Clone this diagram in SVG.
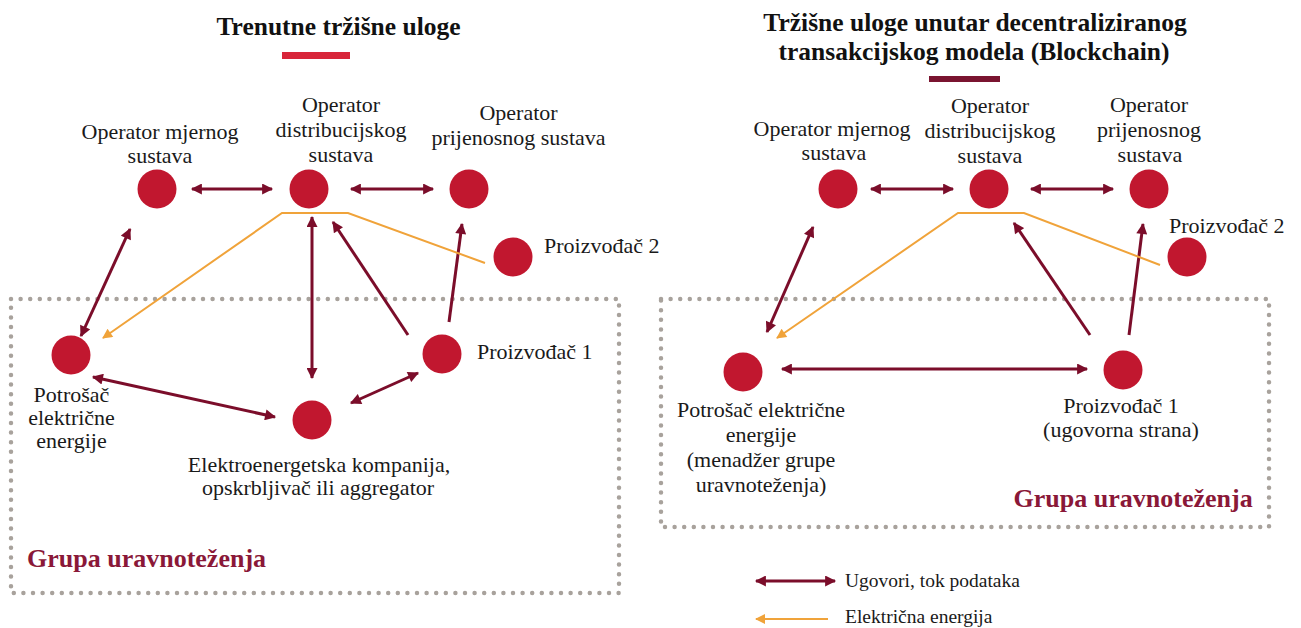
<svg xmlns="http://www.w3.org/2000/svg" width="1301" height="628" viewBox="0 0 1301 628">
<style>
.t{font-family:"Liberation Serif","Times New Roman",Tinos,serif;font-weight:700;font-size:25.5px;fill:#111}
.l{font-family:"Times New Roman","Liberation Serif",Tinos,"DejaVu Serif",serif;font-size:22px;fill:#1a1a1a}
.lg{font-family:"Times New Roman","Liberation Serif",Tinos,"DejaVu Serif",serif;font-size:19.5px;fill:#1a1a1a}
.g{font-family:"Liberation Serif","Times New Roman",Tinos,serif;font-weight:700;font-size:26px;fill:#8a1838}
.c{text-anchor:middle}
.n{fill:#c1172f}
.box{fill:none;stroke:#a8a29c;stroke-width:4.5;stroke-linecap:round;stroke-dasharray:0 9.6}
.a{fill:none;stroke:#7b0d2a;stroke-width:3}
.o{fill:none;stroke:#f0a33a;stroke-width:2}
</style>
<defs>
<marker id="ad" viewBox="0 0 10 10" refX="9" refY="5" markerWidth="12" markerHeight="11" markerUnits="userSpaceOnUse" orient="auto-start-reverse">
<path d="M0,0 L10,5 L0,10 z" fill="#7b0d2a"/>
</marker>
<marker id="ao" viewBox="0 0 10 10" refX="9" refY="5" markerWidth="11" markerHeight="10" markerUnits="userSpaceOnUse" orient="auto-start-reverse">
<path d="M0,0 L10,5 L0,10 z" fill="#f0a33a"/>
</marker>
</defs>

<g id="left-panel">
<text class="t c" x="338.5" y="35">Trenutne tržišne uloge</text>
<rect x="282" y="52" width="68" height="7" fill="#d8253a"/>
<rect id="left-group" class="box" x="11" y="299" width="608" height="294"/>
<text class="g" x="27" y="567">Grupa uravnoteženja</text>
</g>

<g id="right-panel">
<text class="t c" x="975" y="31">Tržišne uloge unutar decentraliziranog</text>
<text class="t c" x="974" y="60">transakcijskog modela (Blockchain)</text>
<rect x="929" y="76" width="71" height="6" fill="#7a1430"/>
<rect id="right-group" class="box" x="661" y="299" width="608" height="228"/>
<text class="g" x="1013.6" y="507">Grupa uravnoteženja</text>
</g>

<g id="connectors">
<line class="a" x1="192" y1="189" x2="272" y2="189" marker-start="url(#ad)" marker-end="url(#ad)"/>
<line class="a" x1="351" y1="189" x2="433" y2="189" marker-start="url(#ad)" marker-end="url(#ad)"/>
<line class="a" x1="81" y1="336" x2="130" y2="229" marker-start="url(#ad)" marker-end="url(#ad)"/>
<line class="a" x1="312" y1="217" x2="312" y2="378" marker-start="url(#ad)" marker-end="url(#ad)"/>
<line class="a" x1="408" y1="335" x2="333" y2="222" marker-end="url(#ad)"/>
<line class="a" x1="449" y1="322" x2="462" y2="224" marker-end="url(#ad)"/>
<line class="a" x1="93" y1="377" x2="275" y2="417" marker-start="url(#ad)" marker-end="url(#ad)"/>
<line class="a" x1="351" y1="403" x2="418" y2="373" marker-start="url(#ad)" marker-end="url(#ad)"/>
<polyline class="o" points="485,263 348,213 282,213 103,338" marker-end="url(#ao)"/>

<line class="a" x1="871" y1="189" x2="953" y2="189" marker-start="url(#ad)" marker-end="url(#ad)"/>
<line class="a" x1="1031" y1="189" x2="1113" y2="189" marker-start="url(#ad)" marker-end="url(#ad)"/>
<line class="a" x1="767" y1="332" x2="813" y2="227" marker-start="url(#ad)" marker-end="url(#ad)"/>
<line class="a" x1="1090" y1="335" x2="1014" y2="223" marker-end="url(#ad)"/>
<line class="a" x1="1129" y1="335" x2="1143" y2="224" marker-end="url(#ad)"/>
<line class="a" x1="782" y1="369" x2="1087" y2="369" marker-start="url(#ad)" marker-end="url(#ad)"/>
<polyline class="o" points="1160,265 1024,213 958,213 777,338" marker-end="url(#ao)"/>
</g>

<g id="L-oms">
<circle class="n" cx="157" cy="189" r="19.5"/>
<text class="l c" x="160" y="139">Operator mjernog</text>
<text class="l c" x="160" y="163">sustava</text>
</g>
<g id="L-ods">
<circle class="n" cx="309" cy="189" r="19.5"/>
<text class="l c" x="341" y="112">Operator</text>
<text class="l c" x="341" y="137">distribucijskog</text>
<text class="l c" x="341" y="162">sustava</text>
</g>
<g id="L-ops">
<circle class="n" cx="469" cy="189" r="19.5"/>
<text class="l c" x="518.5" y="120">Operator</text>
<text class="l c" x="518.5" y="145">prijenosnog sustava</text>
</g>
<g id="L-p2">
<circle class="n" cx="513" cy="257" r="19.5"/>
<text class="l" x="544" y="253">Proizvođač 2</text>
</g>
<g id="L-p1">
<circle class="n" cx="442" cy="354" r="19.5"/>
<text class="l" x="477" y="359">Proizvođač 1</text>
</g>
<g id="L-potrosac">
<circle class="n" cx="71" cy="355" r="19.5"/>
<text class="l c" x="71.5" y="402">Potrošač</text>
<text class="l c" x="71.5" y="425">električne</text>
<text class="l c" x="71.5" y="448">energije</text>
</g>
<g id="L-elektro">
<circle class="n" cx="312" cy="420" r="19.5"/>
<text class="l c" x="319" y="472">Elektroenergetska kompanija,</text>
<text class="l c" x="318" y="495">opskrbljivač ili aggregator</text>
</g>

<g id="R-oms">
<circle class="n" cx="838" cy="189" r="19.5"/>
<text class="l c" x="832" y="136">Operator mjernog</text>
<text class="l c" x="834" y="160">sustava</text>
</g>
<g id="R-ods">
<circle class="n" cx="989" cy="189" r="19.5"/>
<text class="l c" x="990" y="113">Operator</text>
<text class="l c" x="990" y="138">distribucijskog</text>
<text class="l c" x="990" y="163">sustava</text>
</g>
<g id="R-ops">
<circle class="n" cx="1149" cy="189" r="19.5"/>
<text class="l c" x="1149" y="112">Operator</text>
<text class="l c" x="1149" y="137">prijenosnog</text>
<text class="l c" x="1150" y="162">sustava</text>
</g>
<g id="R-p2">
<circle class="n" cx="1187" cy="257" r="19.5"/>
<text class="l" x="1169" y="233">Proizvođač 2</text>
</g>
<g id="R-potrosac">
<circle class="n" cx="743" cy="372" r="19.5"/>
<text class="l c" x="761" y="417">Potrošač električne</text>
<text class="l c" x="761" y="442">energije</text>
<text class="l c" x="761" y="467">(menadžer grupe</text>
<text class="l c" x="761" y="492">uravnoteženja)</text>
</g>
<g id="R-p1">
<circle class="n" cx="1123" cy="370" r="19.5"/>
<text class="l c" x="1121" y="413">Proizvođač 1</text>
<text class="l c" x="1121" y="437">(ugovorna strana)</text>
</g>

<g id="legend">
<line class="a" x1="756" y1="581" x2="835" y2="581" marker-start="url(#ad)" marker-end="url(#ad)"/>
<text class="lg" x="845" y="587">Ugovori, tok podataka</text>
<line class="o" x1="828" y1="619" x2="756" y2="619" marker-end="url(#ao)"/>
<text class="lg" x="845" y="623">Električna energija</text>
</g>
</svg>
